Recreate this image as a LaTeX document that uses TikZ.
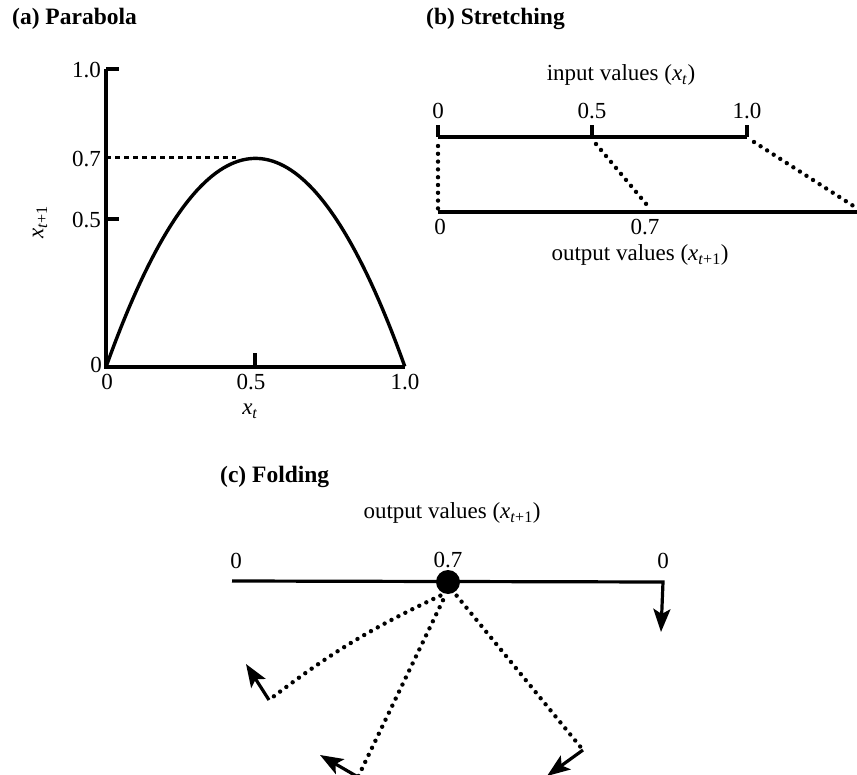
\documentclass[tikz,border=0pt]{standalone}
\usepackage{fontspec}
\setmainfont{Liberation Serif}
\usetikzlibrary{arrows.meta}
\newcommand\myxt{\textit{x}\textsubscript{\textit{t}}}
\newcommand\myxtp{\textit{x}\textsubscript{\textit{t}+1}}
\begin{document}
\begin{tikzpicture}[x=1pt,y=-1pt,
  lbl/.style={font=\fontsize{23}{26}\selectfont, inner sep=0pt},
  ttl/.style={font=\fontsize{23.5}{26}\selectfont\bfseries, inner sep=0pt, anchor=west},
  axisline/.style={line width=3.2pt},
  dotline/.style={line width=4.4pt, line cap=round, dash pattern=on 0pt off 7.8pt},
  dashline/.style={line width=3pt, dash pattern=on 4.5pt off 4.5pt},
  arr/.style={line width=3.2pt, line join=miter, -{Stealth[length=23pt,width=17pt,inset=5pt]}},
]
\useasboundingbox (0,0) rectangle (857,775);
% ---------- titles
\node[ttl] (ta) at (12,19) {(a) Parabola};
\node[ttl] (tb) at (426,19) {(b) Stretching};
\node[ttl] (tc) at (220,477) {(c) Folding};
% ---------- panel a
\coordinate (o) at (106,367);
\coordinate (ytop) at (106,69);
\coordinate (xend) at (405,367);
\coordinate (y5) at (106,219);
\coordinate (y7) at (106,158);
\coordinate (x5) at (255,367);
\coordinate (peakl) at (236,158);
\draw[axisline, line join=miter] (ytop) -- (o) -- (xend);
\draw[axisline] (ytop) -- ++(13,0);
\draw[axisline] (y5) -- ++(13,0);
\draw[axisline] (x5) -- ++(0,-14);
\draw[dashline] (y7) -- (peakl);
\draw[line width=3.4pt] plot[domain=0:1, samples=80] ({106+299*\x},{367-298*2.8*\x*(1-\x)});
\node[lbl, anchor=east] (ly10) at (101,70) {1.0};
\node[lbl, anchor=east] (ly7) at (101,159) {0.7};
\node[lbl, anchor=east] (ly5) at (101,220) {0.5};
\node[lbl, anchor=east] (ly0) at (102,365) {0};
\node[lbl] (lx0) at (107,382) {0};
\node[lbl] (lx5) at (251,382) {0.5};
\node[lbl] (lx10) at (405,382) {1.0};
\node[lbl] (lxt) at (250,411) {\myxt};
\node[lbl, rotate=90] (lxtp) at (40,222) {\myxtp};
% ---------- panel b
\coordinate (i0) at (438,137);
\coordinate (i5) at (592,137);
\coordinate (i1) at (747,137);
\coordinate (o0) at (438,212);
\coordinate (o7) at (647,205);
\coordinate (oe) at (857,212);
\coordinate (o14) at (855,207);
\draw[axisline] (i0) -- (i1);
\draw[axisline] (i0) -- ++(0,-12);
\draw[axisline] (i5) -- ++(0,-12);
\draw[axisline] (i1) -- ++(0,-12);
\draw[axisline] (o0) -- (oe);
\draw[dotline] (i0) ++(0,9) -- (o0);
\draw[dotline] (i5) ++(4,7) -- (o7);
\draw[dotline] (i1) ++(7,5) -- (o14);
\node[lbl] (bin) at (621,75) {input values (\myxt)};
\node[lbl] (bi0) at (438,111) {0};
\node[lbl] (bi5) at (592,111) {0.5};
\node[lbl] (bi1) at (747,111) {1.0};
\node[lbl] (bo0) at (440,227) {0};
\node[lbl] (bo7) at (645,227) {0.7};
\node[lbl] (bout) at (640,255) {output values (\myxtp)};
% ---------- panel c
\node[lbl] (cout) at (452,513) {output values (\myxtp)};
\coordinate (c0) at (232,581);
\coordinate (cc) at (663,582);
\coordinate (ct) at (661,632);
\draw[arr] (c0) -- (cc) -- (ct);
\node[circle, fill=black, minimum size=24pt, inner sep=0pt] (dot) at (448,582) {};
\node[lbl] (cl0) at (236,561) {0};
\node[lbl] (cl7) at (448,560) {0.7};
\node[lbl] (cr0) at (663,561) {0};
\coordinate (e1) at (269,700);
\coordinate (t1) at (246,664);
\coordinate (e2) at (358,777);
\coordinate (t2) at (320,755);
\coordinate (e3) at (583,750);
\coordinate (t3) at (547,776);
\draw[dotline] (dot.south west) ++(1,5) to[bend right=6] (e1);
\draw[dotline] (dot.south) ++(-5,6) -- (e2);
\draw[dotline] (dot.south east) ++(0,5) -- (e3);
\draw[arr] (e1) -- (t1);
\draw[arr] (e2) -- (t2);
\draw[arr] (e3) -- (t3);
\end{tikzpicture}
\end{document}
